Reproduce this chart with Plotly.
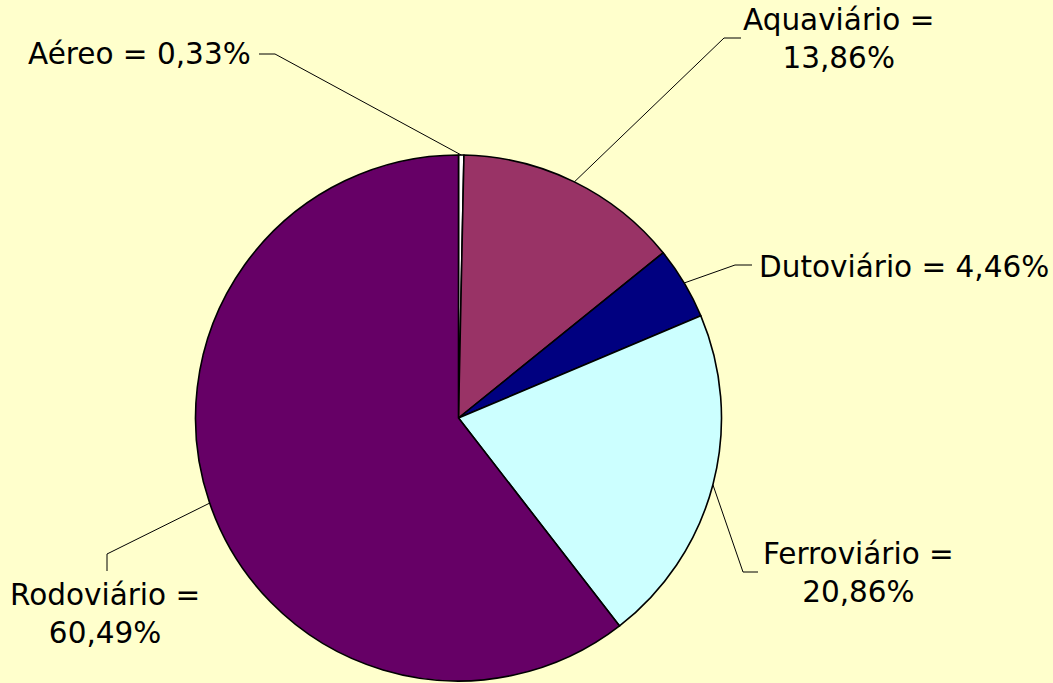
import math
import plotly.graph_objects as go

W, H = 1053, 683

# ---- data ----
categories = ["Aéreo", "Aquaviário", "Dutoviário", "Ferroviário", "Rodoviário"]
values = [0.33, 13.86, 4.46, 20.86, 60.49]
value_labels = ["0,33%", "13,86%", "4,46%", "20,86%", "60,49%"]
colors = ["#FFFFFF", "#993366", "#000080", "#CCFFFF", "#660066"]

# ---- layout geometry (pixels) ----
CX, CY, R = 458.5, 418.0, 263.0

def px(x):
    return x / W

def py(y):
    return 1 - y / H

fig = go.Figure(go.Pie(
    labels=categories,
    values=values,
    sort=False,
    direction="clockwise",
    rotation=0,
    marker=dict(colors=colors, line=dict(color="#000000", width=1.6)),
    textinfo="none",
    hoverinfo="label+percent",
    showlegend=False,
    domain=dict(x=[px(CX - R), px(CX + R)], y=[py(CY + R), py(CY - R)]),
))

# label layout: (text lines, anchor x, center y of block, anchor, elbow, end)
label_layout = [
    dict(lines=[f"{categories[0]} = {value_labels[0]}"], x=253, y=54, xanchor="right",
         elbow=(275, 54), end=(259, 54)),
    dict(lines=[f"{categories[1]} =", value_labels[1]], x=838, y=39, xanchor="center",
         elbow=(724, 38), end=(741, 38)),
    dict(lines=[f"{categories[2]} = {value_labels[2]}"], x=757, y=267, xanchor="left",
         elbow=(735, 265), end=(752, 265)),
    dict(lines=[f"{categories[3]} =", value_labels[3]], x=858, y=573, xanchor="center",
         elbow=(743, 572), end=(758, 572)),
    dict(lines=[f"{categories[4]} =", value_labels[4]], x=105, y=614, xanchor="center",
         elbow=(107, 554), end=(107, 571)),
]

total = sum(values)
cum = 0.0
annotations = []
shapes = []
for v, lab in zip(values, label_layout):
    mid = (cum + v / 2) / total * 2 * math.pi
    cum += v
    ax = CX + R * math.sin(mid)
    ay = CY - R * math.cos(mid)
    ex, ey = lab["elbow"]
    nx, ny = lab["end"]
    path = f"M {px(ax)},{py(ay)} L {px(ex)},{py(ey)} L {px(nx)},{py(ny)}"
    shapes.append(dict(type="path", xref="paper", yref="paper", path=path,
                       line=dict(color="#000000", width=1)))
    annotations.append(dict(
        text="<br>".join(lab["lines"]), xref="paper", yref="paper",
        x=px(lab["x"]), y=py(lab["y"]), xanchor=lab["xanchor"], yanchor="middle",
        align="center", showarrow=False,
        font=dict(family="DejaVu Sans, Verdana, sans-serif", size=29.5, color="#000000"),
    ))

fig.update_layout(
    width=W, height=H,
    margin=dict(l=0, r=0, t=0, b=0),
    paper_bgcolor="#FFFFCC",
    plot_bgcolor="#FFFFCC",
    annotations=annotations,
    shapes=shapes,
)

fig.write_html("out.html", config={"displayModeBar": False},
               post_script="document.body.style.margin='0';document.body.style.overflow='hidden';")
